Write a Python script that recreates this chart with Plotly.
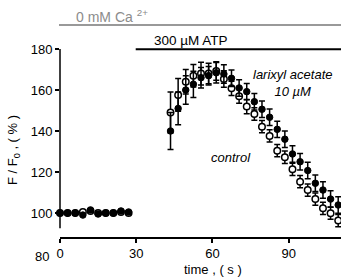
import plotly.graph_objects as go

# time points (s)
time_s = [0, 3, 6, 9, 12, 15, 18, 21, 24, 27,
          43.5, 46.5, 49.5, 52.5, 55.5, 58.5, 61.5, 64.5, 67.5, 70.5, 73.5, 76.5,
          79.5, 82.5, 85.5, 88.5, 91.5, 94.5, 97.5, 100.5, 103.5, 106.5, 109.5]

# control (open circles), F/F0 %
control = [100, 100, 100, 100.5, 101, 100, 100, 100, 100.5, 100,
           149, 157.6, 164, 167, 168, 168, 169.3, 165.4, 160.8, 157, 151.9, 148.3,
           142.1, 137.6, 130.4, 127.2, 121.3, 115.3, 111.2, 106.8, 102.3, 99.9, 96.3]
control_err = [0.5, 0.5, 0.5, 0.5, 0.5, 0.5, 0.5, 0.5, 0.5, 0.5,
               10, 8, 6, 5.5, 5.5, 5, 4.5, 4, 3.5, 3.5, 3.5, 3,
               3, 3, 3, 3, 3, 3, 3, 3, 3, 3, 3]

# larixyl acetate 10 uM (filled circles)
larixyl = [100, 100, 100, 99, 101.5, 99.5, 100, 100, 101, 100.5,
           140, 151, 160, 162.8, 166, 167, 168.4, 167.8, 165.7, 161, 159.2, 154.3,
           150.6, 146.7, 140.8, 136, 128.8, 125, 120.7, 114.5, 111.2, 106.8, 103.9]
larixyl_err = [0.5, 0.5, 0.5, 0.5, 0.5, 0.5, 0.5, 0.5, 0.5, 0.5,
               9, 8, 7, 6.4, 5, 4.5, 5, 4.5, 4, 4, 4, 4,
               4, 4, 4, 4, 4, 4, 4, 4, 4, 4, 4]

y_ticks = [100, 120, 140, 160, 180]
x_ticks = [0, 30, 60, 90]

FONT = "Liberation Sans, Arial, sans-serif"

fig = go.Figure()

fig.add_trace(go.Scatter(
    x=time_s, y=control, mode="markers", name="control",
    marker=dict(symbol="circle", size=6.5, color="white",
                line=dict(color="black", width=1.5)),
    error_y=dict(type="data", array=control_err, color="black",
                 thickness=1.5, width=3),
    cliponaxis=False, showlegend=False,
))
fig.add_trace(go.Scatter(
    x=time_s, y=larixyl, mode="markers", name="larixyl acetate 10 µM",
    marker=dict(symbol="circle", size=6.5, color="black",
                line=dict(color="black", width=1)),
    error_y=dict(type="data", array=larixyl_err, color="black",
                 thickness=1.5, width=3),
    cliponaxis=False, showlegend=False,
))

# plot area: top y=49px (180), bottom y=254px (80), height 205
def py(ypx):
    return (254 - ypx) / 205.0

PW = 281.0

shapes = [
    # y axis line (offset style)
    dict(type="line", xref="paper", yref="y", x0=0, x1=0, y0=92.5, y1=180,
         line=dict(color="black", width=1.5)),
    # Ca bar
    dict(type="line", xref="paper", yref="paper", x0=-1 / PW, x1=1, y0=py(25), y1=py(25),
         line=dict(color="#999999", width=2)),
    # ATP bar
    dict(type="line", xref="x", yref="paper", x0=29.8, x1=111, y0=py(49.3), y1=py(49.3),
         line=dict(color="black", width=2)),
]

annotations = [
    dict(text="0 mM Ca <sup>2+</sup>", x=14 / PW, xref="paper", y=py(16), yref="paper",
         xanchor="left", yanchor="middle", showarrow=False,
         font=dict(family=FONT, size=14, color="#8c8c8c")),
    dict(text="300 µM ATP", x=36.2, xref="x", y=py(40.5), yref="paper",
         xanchor="left", yanchor="middle", showarrow=False,
         font=dict(family=FONT, size=13.5, color="black")),
    dict(text="<i>larixyl acetate</i><br><i>10 µM</i>", x=91.7, xref="x", y=py(83), yref="paper",
         xanchor="center", yanchor="middle", showarrow=False, align="center",
         font=dict(family=FONT, size=13, color="black")),
    dict(text="<i>control</i>", x=67.3, xref="x", y=py(157.5), yref="paper",
         xanchor="center", yanchor="middle", showarrow=False,
         font=dict(family=FONT, size=13, color="black")),
    dict(text="80", x=-9 / PW, xref="paper", y=py(256), yref="paper",
         xanchor="right", yanchor="middle", showarrow=False,
         font=dict(family=FONT, size=13, color="black")),
    dict(text="F / F<sub>0</sub> , ( % )", x=-47 / PW, xref="paper", y=py(150), yref="paper",
         xanchor="center", yanchor="middle", showarrow=False, textangle=-90,
         font=dict(family=FONT, size=13, color="black")),
    dict(text="time , ( s )", x=(213 - 60) / PW, xref="paper", y=py(269), yref="paper",
         xanchor="center", yanchor="middle", showarrow=False,
         font=dict(family=FONT, size=13, color="black")),
]

fig.update_layout(
    width=341, height=278,
    margin=dict(l=60, r=0, t=49, b=24, pad=0, autoexpand=False),
    paper_bgcolor="white", plot_bgcolor="white",
    font=dict(family=FONT, size=13, color="black"),
    xaxis=dict(range=[0, 110.6], tickvals=x_ticks, ticktext=[str(v) for v in x_ticks],
               showgrid=False, zeroline=False, showline=True, linecolor="black",
               linewidth=1.5, ticks="outside", ticklen=4, tickwidth=1.5,
               tickcolor="black", anchor="free", position=py(238),
               tickfont=dict(family=FONT, size=13, color="black")),
    yaxis=dict(range=[80, 180], tickvals=y_ticks, ticktext=[str(v) for v in y_ticks],
               showgrid=False, zeroline=False, showline=False,
               ticks="outside", ticklen=4, tickwidth=1.5, tickcolor="black",
               tickfont=dict(family=FONT, size=13, color="black")),
    shapes=shapes, annotations=annotations,
)

fig.write_html(
    "out.html",
    config={"displayModeBar": False},
    post_script="document.body.style.margin='0';document.body.style.overflow='hidden';",
)
